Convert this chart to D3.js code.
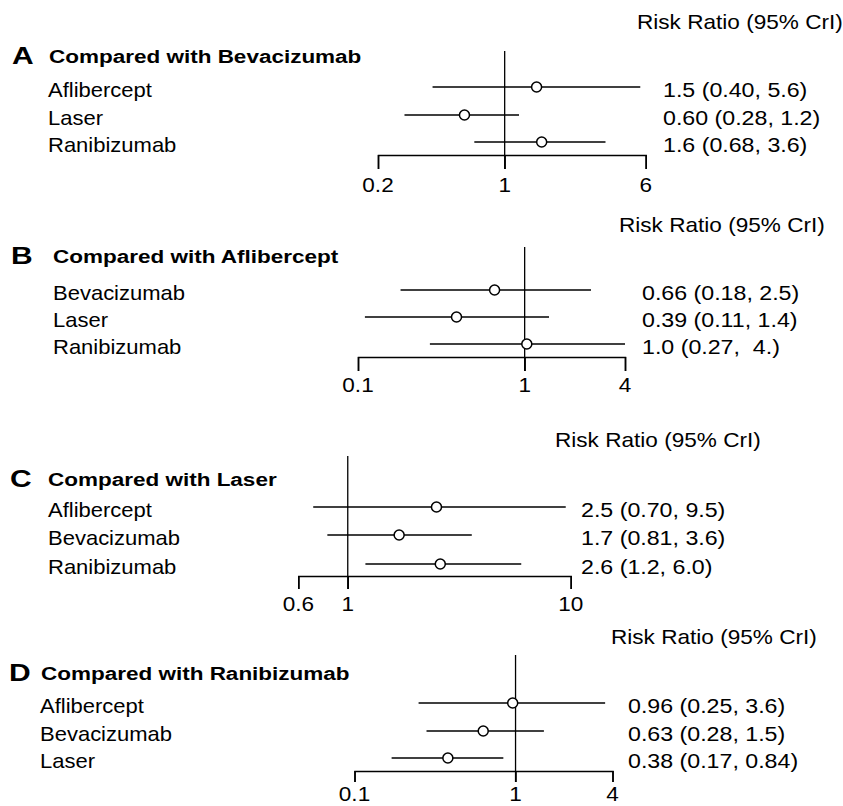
<!DOCTYPE html>
<html><head><meta charset="utf-8">
<script src="https://cdn.jsdelivr.net/npm/d3@7"></script>
<style>
html,body{margin:0;padding:0;background:#fff;}
svg{display:block;}
text{font-family:"Liberation Sans",Arial,Helvetica,sans-serif;fill:#000;white-space:pre;}
</style>
</head><body>
<svg id="chart" width="843" height="806"></svg>
<script>
// ---- data ----
const panelLetters = ["A", "B", "C", "D"];
const panelTitles = ["Compared with Bevacizumab", "Compared with Aflibercept", "Compared with Laser", "Compared with Ranibizumab"];
const headerLabel = "Risk Ratio (95% CrI)";
const rowLabels = [
  ["Aflibercept", "Laser", "Ranibizumab"],
  ["Bevacizumab", "Laser", "Ranibizumab"],
  ["Aflibercept", "Bevacizumab", "Ranibizumab"],
  ["Aflibercept", "Bevacizumab", "Laser"]
];
const estimates = [[1.5, 0.60, 1.6], [0.66, 0.39, 1.03], [2.5, 1.7, 2.6], [0.96, 0.63, 0.38]];
const lowerCrI = [[0.40, 0.28, 0.68], [0.18, 0.11, 0.27], [0.70, 0.81, 1.2], [0.25, 0.28, 0.17]];
const upperCrI = [[5.6, 1.2, 3.6], [2.5, 1.4, 4.0], [9.5, 3.6, 6.0], [3.6, 1.5, 0.84]];
const valueLabels = [
  ["1.5 (0.40, 5.6)", "0.60 (0.28, 1.2)", "1.6 (0.68, 3.6)"],
  ["0.66 (0.18, 2.5)", "0.39 (0.11, 1.4)", "1.0 (0.27,  4.)"],
  ["2.5 (0.70, 9.5)", "1.7 (0.81, 3.6)", "2.6 (1.2, 6.0)"],
  ["0.96 (0.25, 3.6)", "0.63 (0.28, 1.5)", "0.38 (0.17, 0.84)"]
];
const tickValues = [[0.2, 1, 6], [0.1, 1, 4], [0.6, 1, 10], [0.1, 1, 4]];
const tickLabels = [["0.2", "1", "6"], ["0.1", "1", "4"], ["0.6", "1", "10"], ["0.1", "1", "4"]];

// ---- layout ----
const axisRange = [[378, 645.7], [358, 625], [298.3, 570.7], [354.5, 612.5]];
const rowYs = [[87, 115, 142], [290, 317, 344], [507, 535, 564], [703, 731, 758]];
const axisY = [155, 357, 576, 771];
const tickLen = [14, 14, 13, 11];
const tickLabelBase = [191.5, 392, 611, 801];
const refTop = [51, 247, 456, 655];
const labelX = [48, 53, 48, 40];
const valueX = [663, 642, 581, 628];
const headerX = [637, 619, 555, 611];
const headerBase = [29, 232, 447, 644];
const titleBase = [63, 263, 486, 680];
const letterX = [12, 11, 10, 9];
const titleX = [49, 53, 48, 41];

const svg = d3.select("#chart");

function txt(g, s, x, y, size, sx, opts = {}) {
  return g.append("text")
    .attr("transform", `translate(${x},${y}) scale(${sx},1)`)
    .attr("font-size", size)
    .attr("font-weight", opts.bold ? "bold" : null)
    .attr("text-anchor", opts.anchor || "start")
    .text(s);
}

panelLetters.forEach((letter, p) => {
  const g = svg.append("g");
  const ticks = tickValues[p];
  const x = d3.scaleLog()
    .domain([ticks[0], ticks[ticks.length - 1]])
    .range(axisRange[p]);

  // header
  txt(g, headerLabel, headerX[p], headerBase[p], 20, 1.13);
  // panel letter + title
  txt(g, letter, letterX[p], titleBase[p] + 1, 24, 1.25, {bold: true});
  txt(g, panelTitles[p], titleX[p], titleBase[p], 18, 1.25, {bold: true});

  // reference line at 1
  g.append("line")
    .attr("x1", x(1)).attr("x2", x(1))
    .attr("y1", refTop[p]).attr("y2", axisY[p] + tickLen[p])
    .attr("stroke", "#000").attr("stroke-width", 1.3);

  // axis
  const axis = d3.axisBottom(x)
    .tickValues(ticks)
    .tickFormat((d, i) => tickLabels[p][i])
    .tickSizeOuter(0)
    .tickSize(tickLen[p]);
  const ag = g.append("g")
    .attr("transform", `translate(0,${axisY[p]})`)
    .call(axis);
  ag.select(".domain").attr("stroke", "#000").attr("stroke-width", 1.5);
  ag.selectAll(".tick line").attr("stroke", "#000").attr("stroke-width", 1.5);
  ag.selectAll(".tick text").remove();
  ticks.forEach((t, i) => {
    txt(g, tickLabels[p][i], x(t), tickLabelBase[p], 20.5, 1.1, {anchor: "middle"});
  });

  // rows
  rowLabels[p].forEach((lab, i) => {
    const y = rowYs[p][i];
    txt(g, lab, labelX[p], y + 10, 20, 1.1);
    txt(g, valueLabels[p][i], valueX[p], y + 10, 20, 1.16);
    g.append("line")
      .attr("x1", x(lowerCrI[p][i])).attr("x2", x(upperCrI[p][i]))
      .attr("y1", y).attr("y2", y)
      .attr("stroke", "#000").attr("stroke-width", 1.5);
    g.append("circle")
      .attr("cx", x(estimates[p][i])).attr("cy", y).attr("r", 5)
      .attr("fill", "#fff").attr("stroke", "#000").attr("stroke-width", 1.5);
  });
});
</script>
</body></html>
